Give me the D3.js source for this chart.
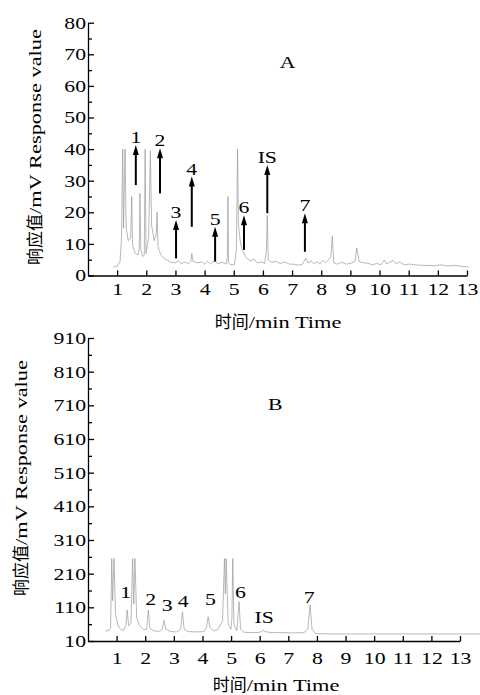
<!DOCTYPE html>
<html>
<head>
<meta charset="utf-8">
<script src="https://cdn.jsdelivr.net/npm/d3@7"></script>
<style>
  body { margin: 0; background: #fff; }
  svg { display: block; }
</style>
</head>
<body>
<div id="container"></div>
<script>
// chromatogram A (standard)
const timeA = [0.86, 1.0, 1.1, 1.15, 1.19, 1.22, 1.27, 1.31, 1.38, 1.46, 1.50, 1.53, 1.62, 1.72, 1.76, 1.78, 1.81, 1.88, 1.93, 1.96,
  1.99, 2.08, 2.14, 2.18, 2.27, 2.34, 2.37, 2.40, 2.5, 2.6, 2.72, 2.85, 3.0, 3.1, 3.2, 3.35, 3.45, 3.53, 3.56, 3.6,
  3.75, 3.9, 4.0, 4.1, 4.2, 4.35, 4.45, 4.6, 4.74, 4.78, 4.80, 4.82, 4.9, 5.02, 5.09, 5.13, 5.16, 5.22, 5.29, 5.33,
  5.4, 5.5, 5.6, 5.7, 5.8, 5.95, 6.06, 6.12, 6.15, 6.18, 6.3, 6.45, 6.6, 6.75, 6.9, 7.05, 7.2, 7.35, 7.47, 7.55,
  7.65, 7.75, 7.85, 7.95, 8.05, 8.15, 8.25, 8.33, 8.38, 8.43, 8.55, 8.7, 8.85, 9.0, 9.15, 9.22, 9.3, 9.45, 9.6, 9.75,
  9.9, 10.05, 10.17, 10.25, 10.35, 10.46, 10.55, 10.7, 10.85, 11.0, 11.3, 11.6, 11.9, 12.1, 12.3, 12.6, 12.8, 13.0, 13.05];
const respA = [2.7, 3.0, 4.5, 12, 40, 15, 40, 15, 11, 12, 25, 9.5, 7, 6.5, 9, 26, 8, 6, 6.5, 40,
  7, 12, 39.5, 16, 11, 13, 20, 9, 6.5, 5.5, 4.8, 4.2, 4.0, 4.6, 3.8, 4.2, 3.7, 4.5, 7, 4.5,
  4.0, 4.3, 3.6, 4.5, 3.6, 4.8, 3.7, 4.2, 3.6, 6, 25, 4, 3.4, 3.4, 8, 40, 16, 11, 8, 7.5,
  6, 5, 4.6, 5.2, 4.0, 4.3, 3.8, 8, 19, 5, 4.2, 4.5, 3.8, 4.3, 3.6, 3.6, 3.3, 3.5, 5.5, 4,
  4.6, 3.8, 4.3, 3.6, 4.8, 4.0, 5, 6, 12.5, 4, 3.6, 4.2, 3.6, 3.8, 4.4, 8.7, 4.4, 4, 3.9, 3.4,
  3.8, 3.4, 4.9, 3.6, 4.2, 4.8, 3.8, 4.2, 3.4, 3.6, 3.3, 3.2, 3.1, 3.4, 3.0, 3.2, 2.9, 2.8, 2.6];

// chromatogram B (sample)
const timeB = [0.6, 0.72, 0.79, 0.83, 0.86, 0.91, 0.96, 1.05, 1.15, 1.25, 1.32, 1.37, 1.42, 1.5, 1.56, 1.60, 1.64, 1.70, 1.8, 1.95,
  2.05, 2.11, 2.16, 2.3, 2.5, 2.6, 2.66, 2.72, 2.9, 3.1, 3.24, 3.30, 3.36, 3.5, 3.8, 4.05, 4.14, 4.2, 4.26, 4.4,
  4.55, 4.7, 4.77, 4.80, 4.83, 4.9, 5.0, 5.03, 5.06, 5.1, 5.2, 5.28, 5.33, 5.45, 5.7, 5.95, 6.07, 6.12, 6.18, 6.4,
  6.8, 7.2, 7.55, 7.68, 7.76, 7.83, 7.95, 8.5, 10, 12, 13.7];
const respB = [40, 41, 50, 255, 130, 255, 90, 55, 44, 42, 55, 102, 55, 62, 255, 120, 255, 80, 55, 44,
  45, 102, 48, 40, 39, 45, 72, 45, 38, 37, 45, 97, 45, 38, 37, 38, 50, 82, 50, 40,
  45, 70, 255, 150, 255, 60, 45, 80, 255, 60, 40, 127, 45, 36, 35, 35, 38, 42, 38, 35,
  35, 34, 35, 45, 117, 45, 32, 31, 31, 31, 31];

const peakLabels = ['1', '2', '3', '4', '5', '6', 'IS', '7'];
const arrowTimeA = [1.64, 2.47, 3.02, 3.56, 4.36, 5.35, 6.15, 7.44];
const arrowFromA = [28.6, 26, 5.4, 15.4, 4.4, 8.1, 19.7, 7.5];
const arrowToA = [41.3, 40.3, 17.6, 31.3, 15.4, 19.1, 35, 19.7];
const labelTimeB = [1.32, 2.19, 2.77, 3.33, 4.28, 5.33, 6.16, 7.73];
const labelRespB = [138, 117, 100, 112, 117, 137, 63, 124];

const xTicks = [1, 2, 3, 4, 5, 6, 7, 8, 9, 10, 11, 12, 13];
const yTicksA = [0, 10, 20, 30, 40, 50, 60, 70, 80];
const yMinorA = [5, 15, 25, 35, 45, 55, 65, 75];
const yTicksB = [10, 110, 210, 310, 410, 510, 610, 710, 810, 910];
const yMinorB = [60, 160, 260, 360, 460, 560, 660, 760, 860];

const w = 480;
const h = 695;
const SX = 1.28; // the original type is set wide
const serif = '"Liberation Serif", "Times New Roman", serif';
const cjk = '"Noto Sans CJK SC", sans-serif';

const svg = d3.select('#container')
  .append('svg')
  .attr('width', w)
  .attr('height', h)
  .attr('viewBox', [0, 0, w, h]);

svg.append('rect').attr('width', w).attr('height', h).attr('fill', '#fff');

function wideText(g, x, y, str, size, anchor) {
  return g.append('text')
    .attr('transform', `translate(${x},${y}) scale(${SX},1)`)
    .attr('text-anchor', anchor || 'middle')
    .attr('font-family', serif)
    .attr('font-size', size)
    .attr('fill', '#000')
    .text(str);
}

function mixedLabel(cx, cy, rot, han, latin) {
  const g = svg.append('g').attr('transform', `translate(${cx},${cy}) rotate(${rot})`);
  const a = g.append('text').attr('font-family', cjk).attr('font-size', 17).attr('fill', '#000').text(han);
  const b = g.append('text').attr('font-family', serif).attr('font-size', 17.5).attr('fill', '#000')
    .attr('transform', `scale(${SX},1)`).text(latin);
  const wa = a.node().getComputedTextLength();
  const wb = b.node().getComputedTextLength() * SX;
  const left = -(wa + wb) / 2;
  a.attr('x', left);
  b.attr('x', (left + wa) / SX);
}

function panel(cfg) {
  const x = d3.scaleLinear().domain([0, 13]).range(cfg.xRange);
  const y = d3.scaleLinear().domain(cfg.yDomain).range(cfg.yRange);
  const g = svg.append('g');

  const pts = cfg.time.map((t, i) => [t, cfg.resp[i]]);
  g.append('path')
    .datum(pts)
    .attr('fill', 'none')
    .attr('stroke', '#9a9a9a')
    .attr('stroke-width', 0.7)
    .attr('d', d3.line().x(d => x(d[0])).y(d => y(d[1])));

  // axes, ticks point inwards
  const ax = g.append('g')
    .attr('transform', `translate(0,${cfg.yRange[0]})`)
    .call(d3.axisBottom(x).tickValues(xTicks).tickSize(-5).tickSizeOuter(0).tickPadding(cfg.xPad));
  ax.selectAll('.tick text').attr('transform', `scale(${SX},1)`);

  const ay = g.append('g')
    .attr('transform', `translate(${cfg.xRange[0]},0)`)
    .call(d3.axisLeft(y).tickValues(cfg.yTicks).tickSize(-6).tickSizeOuter(0).tickPadding(2));
  ay.selectAll('.tick text').attr('x', -2 / SX).attr('transform', `scale(${SX},1)`);
  g.append('g')
    .attr('transform', `translate(${cfg.xRange[0]},0)`)
    .call(d3.axisLeft(y).tickValues(cfg.yMinor).tickSize(-4).tickSizeOuter(0).tickFormat(''))
    .select('.domain').remove();

  g.selectAll('.domain, .tick line').attr('stroke', '#000').attr('stroke-width', 1.3);
  g.selectAll('.tick text').attr('font-family', serif).attr('font-size', 17).attr('fill', '#000');

  return {x, y, g};
}

// ---- panel A
const A = panel({
  time: timeA, resp: respA,
  xRange: [88, 467], yDomain: [0, 80], yRange: [275.5, 22.7],
  yTicks: yTicksA, yMinor: yMinorA, xPad: 7
});

const arrows = A.g.selectAll('g.arrow')
  .data(peakLabels)
  .join('g')
  .attr('class', 'arrow');
arrows.append('line')
  .attr('x1', (d, i) => A.x(arrowTimeA[i]))
  .attr('x2', (d, i) => A.x(arrowTimeA[i]))
  .attr('y1', (d, i) => A.y(arrowFromA[i]))
  .attr('y2', (d, i) => A.y(arrowToA[i]) + 8)
  .attr('stroke', '#000')
  .attr('stroke-width', 2);
arrows.append('path')
  .attr('d', (d, i) => `M${A.x(arrowTimeA[i])},${A.y(arrowToA[i])} l-3,10 l6,0 z`)
  .attr('fill', '#000');
arrows.each(function (d, i) {
  wideText(d3.select(this), A.x(arrowTimeA[i]), A.y(arrowToA[i]) - 2, d, 17);
});

wideText(svg, A.x(6.85), A.y(65.7), 'A', 17);
mixedLabel(278, 328, 0, '时间', '/min Time');
mixedLabel(41, 147, -90, '响应值', '/mV Response value');

// ---- panel B
const B = panel({
  time: timeB, resp: respB,
  xRange: [88, 460], yDomain: [10, 910], yRange: [641, 338],
  yTicks: yTicksB, yMinor: yMinorB, xPad: 11
});

peakLabels.forEach((d, i) => {
  wideText(B.g, B.x(labelTimeB[i]), B.y(labelRespB[i]), d, 17);
});

wideText(svg, B.x(6.54), B.y(696), 'B', 17);
mixedLabel(276, 691, 0, '时间', '/min Time');
mixedLabel(27, 478, -90, '响应值', '/mV Response value');
</script>
</body>
</html>
